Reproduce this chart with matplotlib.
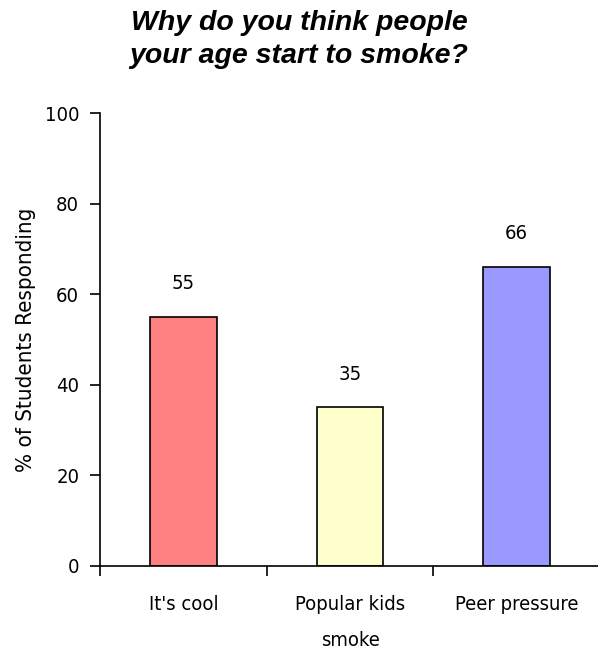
import matplotlib
matplotlib.use('Agg')
import matplotlib.pyplot as plt
from matplotlib import font_manager as fm

# chart data
categories = ["It's cool", 'Popular kids\nsmoke', 'Peer pressure']
values = [55, 35, 66]
yticks = [0, 20, 40, 60, 80, 100]
bar_colors = ['#FF8080', '#FFFFCC', '#9999FF']

# look for a narrow sans face, else plain Liberation Sans
narrow = None
for f in fm.fontManager.ttflist:
    n = f.name.lower()
    if ('narrow' in n or 'condensed' in n or 'condensed' in str(f.stretch)) and f.style == 'normal' and f.weight in (400, 'normal', 'regular'):
        narrow = f.fname
        break
if narrow:
    prop = fm.FontProperties(fname=narrow, size=14.5)
else:
    prop = fm.FontProperties(family='Liberation Sans', size=14.5)

fig = plt.figure(figsize=(5.98, 6.51), dpi=100)
ax = fig.add_axes([100 / 598, 0.1306, 500 / 598, 0.6958])

x = list(range(len(categories)))
ax.bar(x, values, width=0.4, color=bar_colors, edgecolor='black', linewidth=1.2, zorder=2)

for xi, v in zip(x, values):
    ax.annotate(str(v), (xi, v), xytext=(0, 24), textcoords='offset points',
                ha='center', va='center', fontproperties=prop)

ax.set_xlim(-0.5, 2.5)
ax.set_ylim(0, 100)
ax.set_yticks(yticks)
ax.set_xticks(x)
ax.set_xticklabels(categories, fontproperties=prop, linespacing=2.15, va='top')
for lab in ax.get_yticklabels():
    lab.set_fontproperties(prop)
ax.set_xticks([-0.5, 0.5, 1.5, 2.5], minor=True)
ax.tick_params(axis='x', which='major', length=0, pad=21)
ax.tick_params(axis='x', which='minor', length=7, width=1.2, direction='out')
ax.tick_params(axis='y', length=7, width=1.2, direction='out', pad=8)

for s in ['top', 'right']:
    ax.spines[s].set_visible(False)
for s in ['left', 'bottom']:
    ax.spines[s].set_linewidth(1.2)

lprop = prop.copy()
lprop.set_size(16)
ax.set_ylabel('% of Students Responding', fontproperties=lprop, labelpad=6)

fig.suptitle('Why do you think people\nyour age start to smoke?', x=0.5, y=0.984,
             fontsize=20.5, fontweight='bold', fontstyle='italic',
             family=['Liberation Sans', 'DejaVu Sans'], linespacing=1.32)

fig.savefig('out.png', dpi=100)
